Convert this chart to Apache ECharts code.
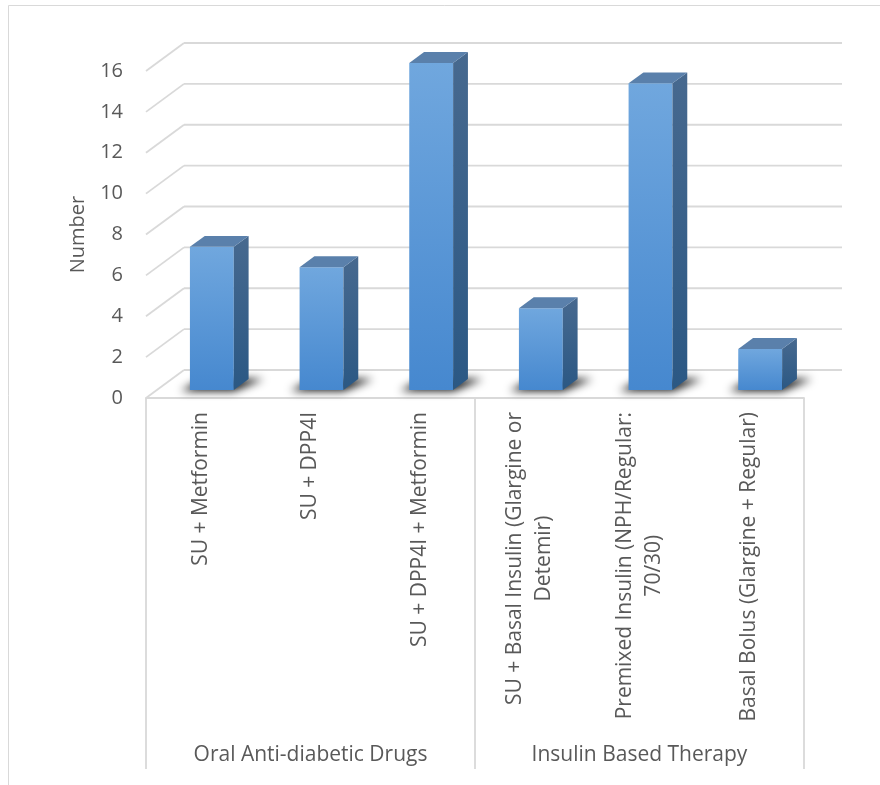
<!DOCTYPE html>
<html>
<head>
<meta charset="utf-8">
<script src="https://cdn.jsdelivr.net/npm/echarts@6/dist/echarts.min.js"></script>
<style>
  html, body { margin: 0; padding: 0; background: #ffffff; }
  #chart { width: 880px; height: 785px; }
</style>
</head>
<body>
<div id="chart"></div>
<script>
// Treatment regimens (first-level categories) and their groups
const categories = [
  'SU + Metformin',
  'SU + DPP4I',
  'SU + DPP4I + Metformin',
  'SU + Basal Insulin (Glargine or\nDetemir)',
  'Premixed Insulin (NPH/Regular:\n70/30)',
  'Basal Bolus (Glargine + Regular)'
];
const groups = ['Oral Anti-diabetic Drugs', 'Insulin Based Therapy'];
const counts = [7, 6, 16, 4, 15, 2];
const yTicks = [0, 2, 4, 6, 8, 10, 12, 14, 16];

const FONT = 'Open Sans';
const LABEL_SIZE = 21;
const TICK_SIZE = 20;
const TEXT = '#595959';
const LINE = '#d9d9d9';

// Perspective: the floor recedes this far to the back-right
const DEPTH_X = 38;
const DEPTH_Y = 28;
// Bars occupy this slice of the floor depth (0 = front edge, 1 = back wall)
const FRONT = 0.29;
const BACK = 0.68;
// Shadow shapes are drawn far off to the left; only their blurred shadow lands on the floor
const SHADOW_SHIFT = 3000;

function wallItem(params, api) {
  const cs = params.coordSys;
  const y = api.coord([0, api.value(1)])[1];
  const x0 = cs.x;
  const x1 = cs.x + cs.width;
  const style = { stroke: LINE, lineWidth: 1.8, fill: null };
  return {
    type: 'group',
    children: [
      { type: 'line', shape: { x1: x0, y1: y, x2: x0 + DEPTH_X, y2: y - DEPTH_Y }, style: style },
      { type: 'line', shape: { x1: x0 + DEPTH_X, y1: y - DEPTH_Y, x2: x1 + DEPTH_X, y2: y - DEPTH_Y }, style: style }
    ]
  };
}

function barItem(params, api) {
  const i = api.value(0);
  const v = api.value(1);
  const base = api.coord([i, 0]);
  const top = api.coord([i, v]);
  const bw = api.size([1, 0])[0] * 0.4;
  const fx = FRONT * DEPTH_X, fy = FRONT * DEPTH_Y;
  const dx = (BACK - FRONT) * DEPTH_X, dy = (BACK - FRONT) * DEPTH_Y;
  const L = base[0] - bw / 2 + fx;
  const R = L + bw;
  const T = top[1] - fy;
  const B = base[1] - fy;
  const G = echarts.graphic.LinearGradient;
  const S = SHADOW_SHIFT;
  return {
    type: 'group',
    children: [
      {
        type: 'polygon',
        shape: { points: [[L - 9 - S, B + 1], [R - S, B + 1], [R + dx + 15 - S, B - dy], [L + dx - 2 - S, B - dy]] },
        style: { fill: '#000', shadowBlur: 8, shadowOffsetX: S, shadowColor: 'rgba(0,0,0,0.95)' }
      },
      {
        type: 'rect',
        shape: { x: L, y: T, width: bw, height: B - T },
        style: {
          fill: new G(0, 0, 0, 1, [
            { offset: 0, color: '#70a7de' },
            { offset: 1, color: '#4688cf' }
          ])
        }
      },
      {
        type: 'polygon',
        shape: { points: [[R, T], [R + dx, T - dy], [R + dx, B - dy], [R, B]] },
        style: {
          fill: new G(0, 0, 0, 1, [
            { offset: 0, color: '#47698f' },
            { offset: 1, color: '#2b5884' }
          ])
        }
      },
      {
        type: 'polygon',
        shape: { points: [[L, T], [L + dx, T - dy], [R + dx, T - dy], [R, T]] },
        style: { fill: '#5a80ab' }
      }
    ]
  };
}

const chart = echarts.init(document.getElementById('chart'), null, { renderer: 'canvas' });

chart.setOption({
  backgroundColor: '#ffffff',
  animation: false,
  graphic: [{
    type: 'rect',
    shape: { x: 8.5, y: 5.5, width: 900, height: 900 },
    style: { fill: null, stroke: LINE, lineWidth: 1 },
    silent: true
  }],
  grid: { left: 146, right: 76, top: 71, bottom: 387, outerBoundsMode: 'none' },
  xAxis: [{
    type: 'category',
    data: categories,
    position: 'bottom',
    axisLine: { show: true, lineStyle: { color: LINE, width: 1.8 } },
    axisTick: { show: false },
    axisLabel: {
      interval: 0,
      rotate: 90,
      margin: 14,
      formatter: function (value) {
        return value.split('\n').map(function (s) { return '{c|' + s + '}'; }).join('\n');
      },
      rich: {
        c: { align: 'center', fontFamily: FONT, fontSize: LABEL_SIZE, lineHeight: 29, color: TEXT }
      }
    }
  }, {
    type: 'category',
    data: groups,
    position: 'bottom',
    axisLine: { show: false },
    axisTick: { show: true, length: 371, lineStyle: { color: LINE, width: 1.8 } },
    axisLabel: { interval: 0, margin: 347, fontFamily: FONT, fontSize: LABEL_SIZE, color: TEXT }
  }],
  yAxis: {
    type: 'value',
    min: 0,
    max: 16,
    interval: 2,
    name: 'Number',
    nameLocation: 'middle',
    nameRotate: 90,
    nameGap: 58,
    nameTextStyle: { fontFamily: FONT, fontSize: TICK_SIZE, color: TEXT },
    axisLine: { show: false },
    axisTick: { show: false },
    splitLine: { show: false },
    axisLabel: { margin: 23, fontFamily: FONT, fontSize: TICK_SIZE, color: TEXT }
  },
  series: [{
    type: 'custom',
    name: 'wall',
    clip: false,
    silent: true,
    renderItem: wallItem,
    data: yTicks.map(function (v) { return [0, v]; }),
    z: 1
  }, {
    type: 'custom',
    name: 'Number',
    clip: false,
    renderItem: barItem,
    data: counts.map(function (v, i) { return [i, v]; }),
    z: 2
  }]
});
</script>
</body>
</html>
